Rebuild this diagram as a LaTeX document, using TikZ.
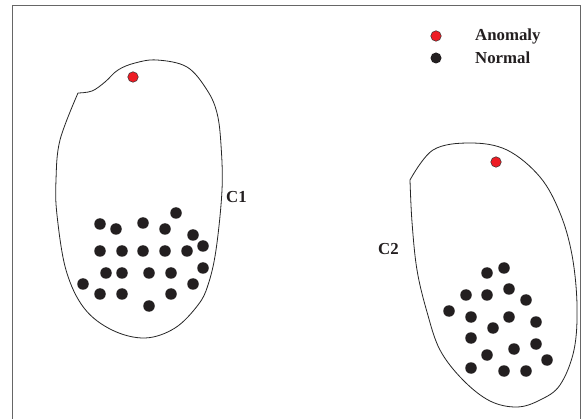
\documentclass[tikz,border=0pt]{standalone}
\usepackage{fontspec}
\setmainfont{Liberation Serif}
\definecolor{dotblack}{HTML}{231F20}
\definecolor{anomred}{HTML}{ED1C24}
\begin{document}
\begin{tikzpicture}[x=1pt,y=-1pt,
  norm/.style={circle,fill=dotblack,inner sep=0pt,minimum size=11.5pt},
  anom/.style={circle,fill=anomred,draw=black!80,line width=0.5pt,inner sep=0pt,minimum size=10.5pt},
  lbl/.style={font=\fontsize{16.8}{19}\selectfont\bfseries,inner sep=0pt,anchor=west,text=dotblack},
  blob/.style={draw=black!85,line width=0.8pt},
  frame/.style={draw=black!60,line width=1.3pt}]
\useasboundingbox (0,0) rectangle (583,419);
\fill[white] (0,0) rectangle (583,419);
% frame
\draw[frame] (12.5,420) -- (12.5,5.5) -- (580.5,5.5) -- (580.5,420);
% cluster 1 outline
\draw[blob] plot[smooth,tension=0.6] coordinates {(78,93) (92,91) (105,82) (118,70) (135,63) (157,60) (187,67) (207,90) (217,113) (221,145) (222,190) (216,250) (208,285) (198,305) (175,328) (145,338) (112,330) (84,308) (66,270) (57,215) (56,180) (60,140) (78,93)};
% cluster 2 outline
\draw[blob] plot[smooth,tension=0.6] coordinates {(410,180) (433,150) (470,143) (507,150) (540,177) (560,213) (572,255) (577,305) (574,350) (560,385) (540,400) (517,407) (490,401) (463,380) (440,350) (427,312) (417,270) (412,222) (410,180)};
% anomalies
\node[anom] (a1) at (133,77) {};
\node[anom] (a2) at (496,162) {};
% cluster 1 normal points
\foreach \x/\y [count=\i] in {100/224,116/229,143/223,165/229,176/213,193/235,203/246,
  100/251,122/251,143/251,165/251,187/251,
  106/273,122/273,149/273,171/273,203/268,
  83/284,100/294,122/294,171/294,193/284,149/306}
  \node[norm] (p\i) at (\x,\y) {};
% cluster 2 normal points
\foreach \x/\y [count=\i] in {487/273,504/268,466/295,487/295,509/289,526/300,
  449/311,471/317,509/317,493/328,536/322,471/338,536/344,514/349,
  487/355,547/360,471/368,504/371,526/371}
  \node[norm] (q\i) at (\x,\y) {};
% cluster labels
\node[lbl] (c1) at (226,197) {C1};
\node[lbl] (c2) at (378,249) {C2};
% legend
\node[anom] (la) at (436,36) {};
\node[norm,minimum size=11pt] (ln) at (436,58) {};
\node[lbl] (ta) at (475,36) {Anomaly};
\node[lbl] (tn) at (475,58) {Normal};
\end{tikzpicture}
\end{document}
